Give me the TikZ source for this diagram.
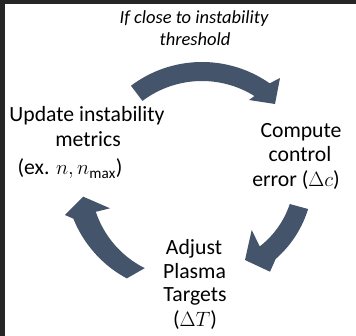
\documentclass[tikz,border=0pt]{standalone}
\usepackage{fontspec}
\setmainfont{Carlito}
\definecolor{arrowc}{HTML}{44546A}
\definecolor{framec}{HTML}{262626}
% edge of a circular arrow: centre (#1,#2), angles #3 -> #4, radius #5 -> #6
\newcommand\arcedge[6]{plot[domain=#3:#4,samples=40,variable=\t]
  ({#1+((#5)+((#6)-(#5))*(\t-(#3))/((#4)-(#3)))*cos(\t)},
   {#2+((#5)+((#6)-(#5))*(\t-(#3))/((#4)-(#3)))*sin(\t)})}
\newcommand\arcto[6]{-- plot[domain=#3:#4,samples=40,variable=\t]
  ({#1+((#5)+((#6)-(#5))*(\t-(#3))/((#4)-(#3)))*cos(\t)},
   {#2+((#5)+((#6)-(#5))*(\t-(#3))/((#4)-(#3)))*sin(\t)})}
\begin{document}
\begin{tikzpicture}[x=1pt,y=-1pt,
  lbl/.style={font=\fontsize{21.7}{26}\selectfont, anchor=base, inner sep=0pt},
  note/.style={font=\fontsize{18.5}{22}\selectfont\itshape, anchor=base, inner sep=0pt},
  cyc/.style={fill=arrowc}]
\useasboundingbox (0,0) rectangle (356,336);
\fill[white] (0,0) rectangle (356,336);
\fill[framec] (0,0) rectangle (5,336);
\fill[framec] (0,0) rectangle (356,4);

% top arrow
\fill[cyc] \arcedge{202}{180}{-127}{-55}{118}{118} -- (280,78) -- (275,104) -- (249,100)
  \arcto{202}{180}{-58}{-127}{99}{99} -- cycle;
% right arrow
\fill[cyc] \arcedge{202}{180}{15.3}{47}{110}{108} -- (270,271.7) -- (245,260) -- (251.7,230)
  \arcto{202}{180}{49}{15.3}{88}{91} -- cycle;
% left arrow
\fill[cyc] \arcedge{190}{183}{123.5}{163}{114.4}{122} -- (65,215) -- (83.3,196.7) -- (110,208.3)
  \arcto{190}{183}{163}{118}{98.5}{96.4} -- cycle;

\node[note] (n1) at (194,24) {If close to instability};
\node[note] (n2) at (195,45.5) {threshold};
\node[lbl] (u1) at (87,121.5) {Update instability};
\node[lbl] (u2) at (88,146.5) {metrics};
\node[lbl] (u3) at (70,175) {(ex. $n, n_{\max}$)};
\node[lbl] (c1) at (301,138) {Compute};
\node[lbl] (c2) at (300,162) {control};
\node[lbl] (c3) at (296,186.5) {error ($\Delta c$)};
\node[lbl] (a1) at (194,255) {Adjust};
\node[lbl] (a2) at (194.5,278.5) {Plasma};
\node[lbl] (a3) at (195,302) {Targets};
\node[lbl] (a4) at (195,327) {($\Delta T$)};
\end{tikzpicture}
\end{document}
